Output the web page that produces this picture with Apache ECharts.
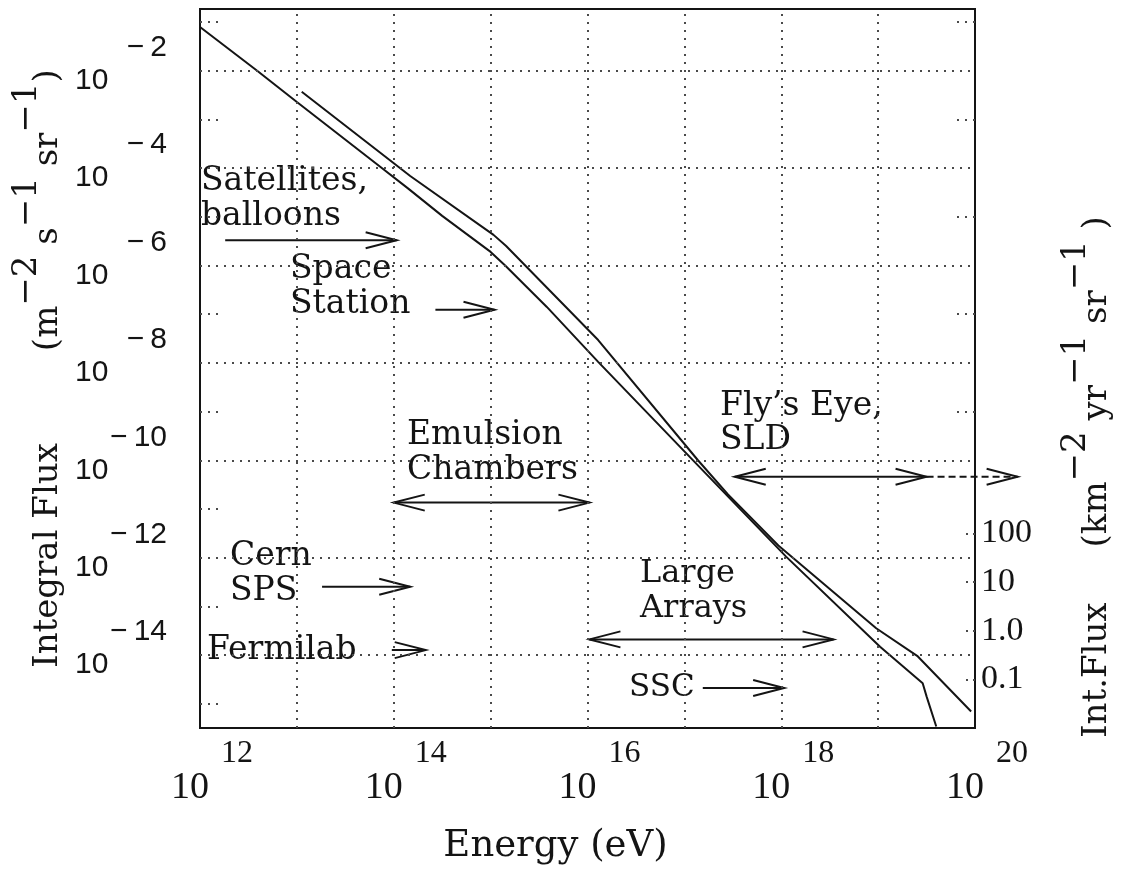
<!DOCTYPE html>
<html>
<head>
<meta charset="utf-8">
<script src="https://cdn.jsdelivr.net/npm/echarts@6/dist/echarts.min.js"></script>
<style>
  html, body { margin: 0; padding: 0; background: #fff; }
  #chart { width: 1121px; height: 875px; }
</style>
</head>
<body>
<div id="chart"></div>
<script>
// Cosmic-ray integral flux versus primary energy.
// Energies are log10(E / eV); fluxes are log10(F / m^-2 s^-1 sr^-1).

// Smooth spectrum, 10^12 eV upward
const spectrumEnergy = [12.0, 12.59, 13.0, 13.86, 14.15, 14.5, 15.0, 15.15, 15.58, 16.11, 17.06, 18.05, 19.02, 19.46, 19.5, 19.6];
const spectrumFlux   = [-1.10, -2.0, -2.64, -3.97, -4.42, -4.98, -5.72, -6.0, -6.85, -7.98, -9.94, -11.98, -13.83, -14.58, -14.85, -15.47];

// Spectrum with the knee and ankle features
const featureEnergy = [13.05, 14.17, 15.03, 15.16, 16.11, 17.14, 17.45, 17.97, 18.98, 19.41, 19.96];
const featureFlux   = [-2.43, -4.16, -5.37, -5.60, -7.53, -10.0, -10.70, -11.75, -13.45, -14.03, -15.16];

// Axis ticks
const energyTicks = [12, 13, 14, 15, 16, 17, 18, 19, 20];
const energyLabels = [12, 14, 16, 18, 20];
const fluxGrid = [-14, -12, -10, -8, -6, -4, -2];
const fluxMinor = [-15, -13, -11, -9, -7, -5, -3, -1];
const intFluxLabels = [-1, 0, 1, 2];          // log10 of km^-2 yr^-1 sr^-1
const intFluxMinor = [-9, -7, -5, -3, -1];    // odd decades marked on the right edge

// 1 km^-2 yr^-1 expressed in m^-2 s^-1 (log10)
const LOG_KM2YR_IN_M2S = -13.5;

// Energy reach of each detection technique (log10 eV)
const techniques  = ['Satellites, balloons', 'Space Station', 'Emulsion Chambers', 'Cern SPS', 'Fermilab', 'Large Arrays', 'SSC', "Fly’s Eye, SLD", "Fly’s Eye, SLD (future)"];
const rangeFrom   = [12.26, 14.43, 14.0, 13.26, 13.98, 16.02, 17.19, 17.52, 19.5];
const rangeTo     = [14.03, 15.04, 16.02, 14.17, 14.33, 18.54, 18.03, 19.5, 20.44];
const twoSided    = [false, false, true, false, false, true, false, true, false];
const projected   = [false, false, false, false, false, false, false, false, true];

const Y_MIN = -15.5, Y_MAX = -0.73;

// Vertical placement of each range arrow, in flux decades
const arrowLevel = [-5.48, -6.91, -10.87, -12.60, -13.9, -13.68, -14.68, -10.34, -10.34];

const INK = '#141414';
const GRID = '#4a4a4a';
const SERIF = '"DejaVu Serif", serif';

const zip = (xs, ys) => xs.map((x, i) => [x, ys[i]]);
const minus = '\u2212';

const arrowData = techniques.map((t, i) => ({
  name: t,
  value: [rangeFrom[i], rangeTo[i], arrowLevel[i], twoSided[i] ? 1 : 0, projected[i] ? 1 : 0]
}));

function renderArrow(params, api) {
  const a = api.coord([api.value(0), api.value(2)]);
  const b = api.coord([api.value(1), api.value(2)]);
  const both = api.value(3) === 1;
  const dashed = api.value(4) === 1;
  const hl = 31, hw = 8;
  const style = { stroke: INK, lineWidth: 2, fill: null };
  const kids = [{
    type: 'line',
    shape: { x1: a[0], y1: a[1], x2: b[0], y2: b[1] },
    style: Object.assign({}, style, dashed ? { lineDash: [7, 4] } : {})
  }, {
    type: 'polyline',
    shape: { points: [[b[0] - hl, b[1] - hw], [b[0], b[1]], [b[0] - hl, b[1] + hw]] },
    style: style
  }];
  if (both) {
    kids.push({
      type: 'polyline',
      shape: { points: [[a[0] + hl, a[1] - hw], [a[0], a[1]], [a[0] + hl, a[1] + hw]] },
      style: style
    });
  }
  return { type: 'group', children: kids };
}

// Raised exponents inside the rotated axis titles
const supStyle = { fontFamily: SERIF, fontSize: 34, color: INK, lineHeight: 34, verticalAlign: 'top' };
const mainStyle = { fontFamily: SERIF, fontSize: 34, color: INK, lineHeight: 55, verticalAlign: 'bottom' };

const chart = echarts.init(document.getElementById('chart'));

chart.setOption({
  animation: false,
  backgroundColor: '#ffffff',
  grid: {
    left: 200, right: 146, top: 9, bottom: 147,
    outerBoundsMode: 'none',
    show: true, borderColor: INK, borderWidth: 2, backgroundColor: 'transparent'
  },
  xAxis: [{
    type: 'value', min: 12, max: 20, interval: 1,
    axisLine: { show: false }, axisTick: { show: false }, splitLine: { show: false },
    axisLabel: {
      showMinLabel: true, showMaxLabel: true, margin: 10,
      padding: [0, 0, 0, 24],
      formatter: v => energyLabels.includes(v) ? `{e|${v}}\n{b|10}` : '',
      rich: {
        e: { fontFamily: '"Liberation Serif", serif', fontSize: 32, lineHeight: 32, color: INK, width: 82, align: 'right' },
        b: { fontFamily: '"Liberation Serif", serif', fontSize: 38, lineHeight: 36, color: INK, width: 82, align: 'left' }
      }
    },
    name: 'Energy (eV)', nameLocation: 'middle', nameGap: 100, nameMoveOverlap: false,
    nameTextStyle: { fontFamily: SERIF, fontSize: 37, color: INK, padding: [0, 64, 0, 0] }
  }],
  yAxis: [{
    type: 'value', min: Y_MIN, max: Y_MAX, interval: 0.5,
    axisLine: { show: false }, splitLine: { show: false },
    axisTick: {
      show: true, inside: true, length: 22, customValues: fluxMinor,
      lineStyle: { color: GRID, width: 2, type: [2, 6] }
    },
    axisLabel: {
      showMinLabel: true, showMaxLabel: true, margin: 33,
      customValues: fluxGrid,
      formatter: v => fluxGrid.includes(v) ? `{e|${minus}\u2009${-v}}\n{b|10}` : '',
      rich: {
        e: { fontFamily: '"Liberation Sans", sans-serif', fontSize: 30, lineHeight: 20, color: INK, width: 92, align: 'right' },
        b: { fontFamily: '"Liberation Sans", sans-serif', fontSize: 30, lineHeight: 46, color: INK, width: 92, align: 'left' }
      }
    },
    name: `{m|Integral Flux}{gap|}{m|(m}{s|${minus}2}{m| s}{s|${minus}1}{m| sr}{s|${minus}1}{m|)}`,
    nameLocation: 'middle', nameGap: 135, nameRotate: 90, nameMoveOverlap: false,
    nameTextStyle: { rich: { m: mainStyle, s: supStyle, gap: { width: 92, lineHeight: 34 } } }
  }, {
    type: 'value', position: 'right',
    min: Y_MIN - LOG_KM2YR_IN_M2S, max: Y_MAX - LOG_KM2YR_IN_M2S, interval: 1,
    axisLine: { show: false }, splitLine: { show: false },
    axisTick: {
      show: true, inside: true, length: 14, customValues: intFluxLabels,
      lineStyle: { color: GRID, width: 2, type: [2, 5] }
    },
    axisLabel: {
      margin: 6, customValues: intFluxLabels,
      fontFamily: '"Liberation Serif", serif', fontSize: 34, color: INK,
      formatter: v => {
        if (!intFluxLabels.includes(v)) return '';
        return v >= 1 ? String(Math.round(Math.pow(10, v))) : Math.pow(10, v).toFixed(1);
      }
    },
    name: `{m|Int.Flux}{gap|}{m|(km}{s|${minus}2 }{m|yr}{s|${minus}1 }{m|sr}{s|${minus}1 }{m|)}`,
    nameLocation: 'middle', nameGap: 84, nameRotate: 90, nameMoveOverlap: false,
    nameTextStyle: { padding: [0, 217, 0, 0], rich: { m: mainStyle, s: supStyle, gap: { width: 55, lineHeight: 34 } } }
  }, {
    type: 'value', position: 'right', min: Y_MIN, max: Y_MAX, interval: 0.5,
    axisLine: { show: false }, splitLine: { show: false }, axisLabel: { show: false },
    axisTick: {
      show: true, inside: true, length: 22, customValues: intFluxMinor,
      lineStyle: { color: GRID, width: 2, type: [2, 6] }
    }
  }],
  series: [{
    name: 'spectrum', type: 'line', xAxisIndex: 0, yAxisIndex: 0,
    data: zip(spectrumEnergy, spectrumFlux),
    showSymbol: false, symbol: 'none', silent: true,
    lineStyle: { color: INK, width: 2 },
    markLine: {
      silent: true, symbol: 'none', label: { show: false },
      lineStyle: { color: GRID, width: 2, type: [2, 6] },
      emphasis: { disabled: true },
      data: energyTicks.slice(1, -1).map(v => ({ xAxis: v }))
        .concat(fluxGrid.map(v => ({ yAxis: v })))
    }
  }, {
    name: 'features', type: 'line', xAxisIndex: 0, yAxisIndex: 0,
    data: zip(featureEnergy, featureFlux),
    showSymbol: false, symbol: 'none', silent: true,
    lineStyle: { color: INK, width: 2 }
  }, {
    name: 'techniques', type: 'custom', xAxisIndex: 0, yAxisIndex: 0,
    clip: false, silent: true,
    renderItem: renderArrow,
    data: arrowData
  }],
  graphic: [
    { type: 'text', left: 201, top: 164, style: { text: 'Satellites,\nballoons', font: `33px ${SERIF}`, fill: INK, lineHeight: 35 } },
    { type: 'text', left: 290, top: 252, style: { text: 'Space\nStation', font: `33px ${SERIF}`, fill: INK, lineHeight: 35 } },
    { type: 'text', left: 407, top: 418, style: { text: 'Emulsion\nChambers', font: `33px ${SERIF}`, fill: INK, lineHeight: 35 } },
    { type: 'text', left: 230, top: 539, style: { text: 'Cern\nSPS', font: `33px ${SERIF}`, fill: INK, lineHeight: 35 } },
    { type: 'text', left: 207, top: 633, style: { text: 'Fermilab', font: `33px ${SERIF}`, fill: INK, lineHeight: 35 } },
    { type: 'text', left: 720, top: 389, style: { text: 'Fly’s Eye,\nSLD', font: `33px ${SERIF}`, fill: INK, lineHeight: 34 } },
    { type: 'text', left: 640, top: 556, style: { text: 'Large\nArrays', font: `32px ${SERIF}`, fill: INK, lineHeight: 35 } },
    { type: 'text', left: 629, top: 670, style: { text: 'SSC', font: `31px ${SERIF}`, fill: INK, lineHeight: 35 } }
  ]
});
</script>
</body>
</html>
